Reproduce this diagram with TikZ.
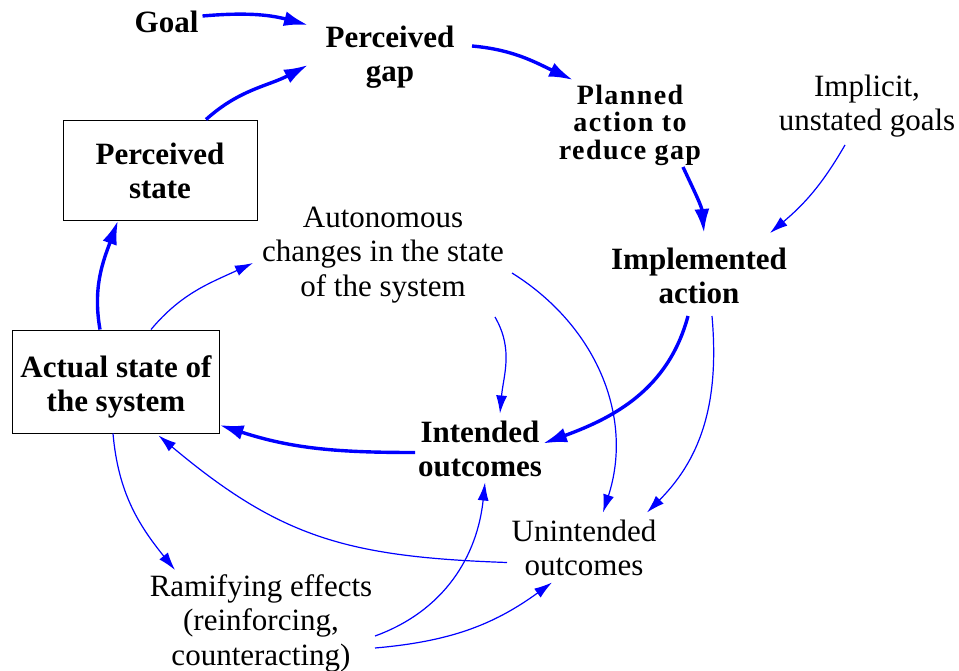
\documentclass[tikz,border=0pt]{standalone}
\usepackage{fontspec}
\setmainfont{Liberation Serif}
\newfontfamily\spacedserif{Liberation Serif}[LetterSpace=5]
\usetikzlibrary{arrows.meta}
\definecolor{linkblue}{RGB}{0,0,255}
\begin{document}
\begin{tikzpicture}[x=1pt,y=1pt,
  lbl/.style={align=center,inner sep=0pt,font=\fontsize{31}{34.5}\selectfont},
  boldlbl/.style={align=center,inner sep=0pt,font=\fontsize{31}{34}\selectfont\bfseries},
  planlbl/.style={align=center,inner sep=0pt,font=\fontsize{28}{27.5}\selectfont\spacedserif\bfseries},
  frame/.style={draw=black,line width=1pt,inner sep=0pt},
  strong/.style={draw=linkblue,line width=3.4pt,-{Latex[length=24pt,width=15pt]}},
  weak/.style={draw=linkblue,line width=1.2pt,-{Latex[length=18pt,width=11pt]}},
]
\useasboundingbox (0,0) rectangle (959,-670);

% boxed stocks
\node[frame,minimum width=194pt,minimum height=100pt] (pstate) at (160,-170) {};
\node[boldlbl] (pstatetext) at (160,-171) {Perceived\\state};
\node[frame,minimum width=207pt,minimum height=103pt] (actual) at (115.5,-381.5) {};
\node[boldlbl] (actualtext) at (116,-387) {Actual state of\\the system};

% other variables
\node[boldlbl] (goal) at (166.5,-22) {Goal};
\node[boldlbl] (pgap) at (390,-57) {Perceived\\gap};
\node[planlbl] (plan) at (630,-125) {Planned\\action to\\reduce gap};
\node[lbl] (implicit) at (867,-106) {Implicit,\\unstated goals};
\node[lbl] (auto) at (383,-255) {Autonomous\\changes in the state\\of the system};
\node[boldlbl] (impl) at (699,-276) {Implemented\\action};
\node[boldlbl] (intended) at (480,-448.5) {Intended\\outcomes};
\node[lbl] (unint) at (584,-548) {Unintended\\outcomes};
\node[lbl] (ramif) at (261,-623) {Ramifying effects\\(reinforcing,\\counteracting)};

% main balancing loop
\draw[strong] ([shift={(36,6)}]goal.center) to[out=5,in=165] ([shift={(-82,32)}]pgap.center);
\draw[strong] ([xshift=46]pstate.north) to[out=42,in=208] ([shift={(-82,-8)}]pgap.center);
\draw[strong] ([shift={(82,11)}]pgap.center) to[out=-5,in=155] ([shift={(-57,45)}]plan.center);
\draw[strong] ([shift={(53,-42)}]plan.center) to[out=-65,in=95] ([shift={(5,43)}]impl.center);
\draw[strong] ([shift={(-11,-40)}]impl.center) to[out=-105,in=20] ([shift={(63,5)}]intended.center);
\draw[strong] ([shift={(-65,-4)}]intended.center) to[out=180,in=-18] ([yshift=-43.5]actual.east);
\draw[strong] ([xshift=-15.5]actual.north) to[out=100,in=-110] ([xshift=-42]pstate.south);

% side influences
\draw[weak] ([shift={(-22,-39)}]implicit.center) to[out=-120,in=40] ([shift={(71,43)}]impl.center);
\draw[weak] ([xshift=35.5]actual.north) to[out=50,in=205] ([shift={(-130,-8)}]auto.center);
\draw[weak] ([shift={(112,-62)}]auto.center) to[out=-60,in=85] ([shift={(20,35)}]intended.center);
\draw[weak] ([shift={(129,-18)}]auto.center) to[out=-32,in=72] ([shift={(19,35.5)}]unint.center);
\draw[weak] ([shift={(13,-40)}]impl.center) to[out=-85,in=45] ([shift={(63,35.5)}]unint.center);
\draw[weak] ([shift={(-77,-14.5)}]unint.center) to[out=178,in=-40,looseness=1.1] ([shift={(43,-2)}]actual.south);
\draw[weak] ([xshift=-2.5]actual.south) to[out=-85,in=129] ([shift={(-86,53)}]ramif.center);
\draw[weak] ([shift={(114,-13)}]ramif.center) to[out=20,in=-96] ([shift={(5,-34)}]intended.center);
\draw[weak] ([shift={(114,-25)}]ramif.center) to[out=5,in=216] ([shift={(-32,-34.5)}]unint.center);
\end{tikzpicture}
\end{document}
